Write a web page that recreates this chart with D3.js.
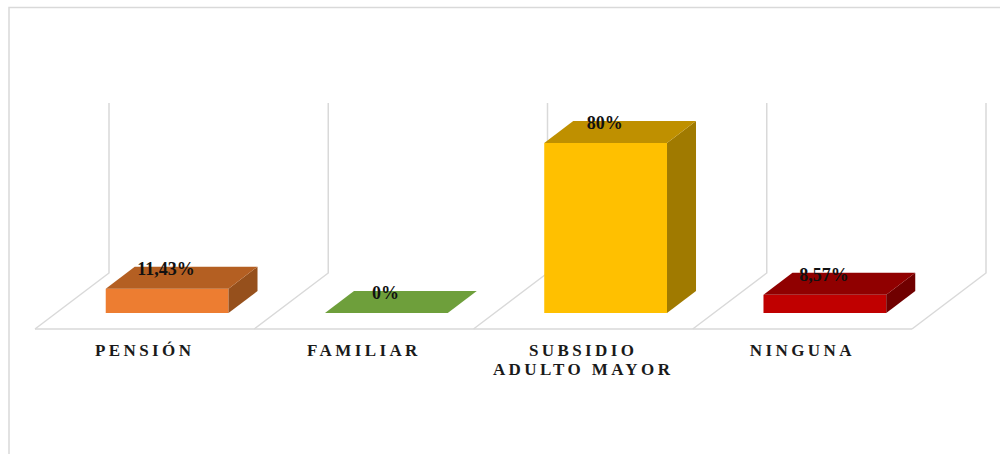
<!DOCTYPE html>
<html><head><meta charset="utf-8">
<script src="https://cdn.jsdelivr.net/npm/d3@7"></script>
<style>html,body{margin:0;padding:0;background:#fff;}svg{display:block;}</style>
</head><body>
<svg id="chart" width="1002" height="454"></svg>
<script>
const categories = ["PENSIÓN", "FAMILIAR", "SUBSIDIO ADULTO MAYOR", "NINGUNA"];
const values = [11.43, 0, 80, 8.57];
const valueLabels = ["11,43%", "0%", "80%", "8,57%"];
const frontColors = ["#ED7D31", "#70AD47", "#FFC000", "#C00000"];
const topColors = ["#B45F22", "#6E9F3B", "#BF9000", "#900000"];
const sideColors = ["#96501C", "#557A2C", "#A07A00", "#700000"];
const yMax = 80;

const svg = d3.select("#chart");
const grid = "#d9d9d9";

// outer frame (top and left edges)
svg.append("path").attr("d", "M9,454 L9,7.5 L1000,7.5")
  .attr("fill", "none").attr("stroke", grid).attr("stroke-width", 1.5);

// floor front band scale and depth geometry
const xFront = d3.scaleBand().domain(categories).range([35, 912]);
const depth = {dx: 74, dy: -56};
const floorY = 329;
const barOff = {dx: 22.5, dy: -16};
const barDepth = {dx: 29, dy: -22};
const yScale = d3.scaleLinear().domain([0, yMax]).range([0, 170]);
const barBase = floorY + barOff.dy;

// floor & walls
const divs = d3.range(categories.length + 1).map(i => 35 + i * xFront.step());
svg.append("line").attr("x1", divs[0]).attr("x2", divs[divs.length - 1])
  .attr("y1", floorY).attr("y2", floorY).attr("stroke", grid).attr("stroke-width", 1.5);
divs.forEach(x0 => {
  const bx = x0 + depth.dx, by = floorY + depth.dy;
  svg.append("path")
    .attr("d", `M${x0},${floorY} L${bx},${by} L${bx},${by - yScale(yMax)}`)
    .attr("fill", "none").attr("stroke", grid).attr("stroke-width", 1.5);
});

// bars
const padW = xFront.step() * 0.22;
const bw = xFront.bandwidth() - 2 * padW;
categories.forEach((c, i) => {
  const x0 = xFront(c) + padW + barOff.dx;
  const x1 = x0 + bw;
  const h = yScale(values[i]);
  const yt = barBase - h;
  const g = svg.append("g");
  if (h > 0) {
    g.append("rect").attr("x", x0).attr("y", yt).attr("width", bw).attr("height", h)
      .attr("fill", frontColors[i]);
    g.append("path")
      .attr("d", `M${x1},${yt} L${x1 + barDepth.dx},${yt + barDepth.dy} L${x1 + barDepth.dx},${barBase + barDepth.dy} L${x1},${barBase} Z`)
      .attr("fill", sideColors[i]);
  }
  g.append("path")
    .attr("d", `M${x0},${yt} L${x0 + barDepth.dx},${yt + barDepth.dy} L${x1 + barDepth.dx},${yt + barDepth.dy} L${x1},${yt} Z`)
    .attr("fill", topColors[i]);
  // value label
  svg.append("text").attr("x", (x0 + x1) / 2 - 1).attr("y", yt - 14)
    .attr("text-anchor", "middle")
    .attr("font-family", "'Liberation Serif', 'Times New Roman', serif")
    .attr("font-weight", "bold").attr("font-size", 18).attr("fill", "#111")
    .text(valueLabels[i]);
  // category label
  const words = c.split(" ");
  const lines = c.length > 12 ? [words[0], words.slice(1).join(" ")] : [c];
  const t = svg.append("text")
    .attr("text-anchor", "middle")
    .attr("font-family", "'Liberation Serif', 'Times New Roman', serif")
    .attr("font-weight", "bold").attr("font-size", 17).attr("fill", "#1a1a1a")
    .attr("letter-spacing", "3.4px");
  lines.forEach((ln, k) => {
    t.append("tspan").attr("x", xFront(c) + xFront.bandwidth() / 2).attr("y", 356 + k * 19).text(ln);
  });
});
</script>
</body></html>
